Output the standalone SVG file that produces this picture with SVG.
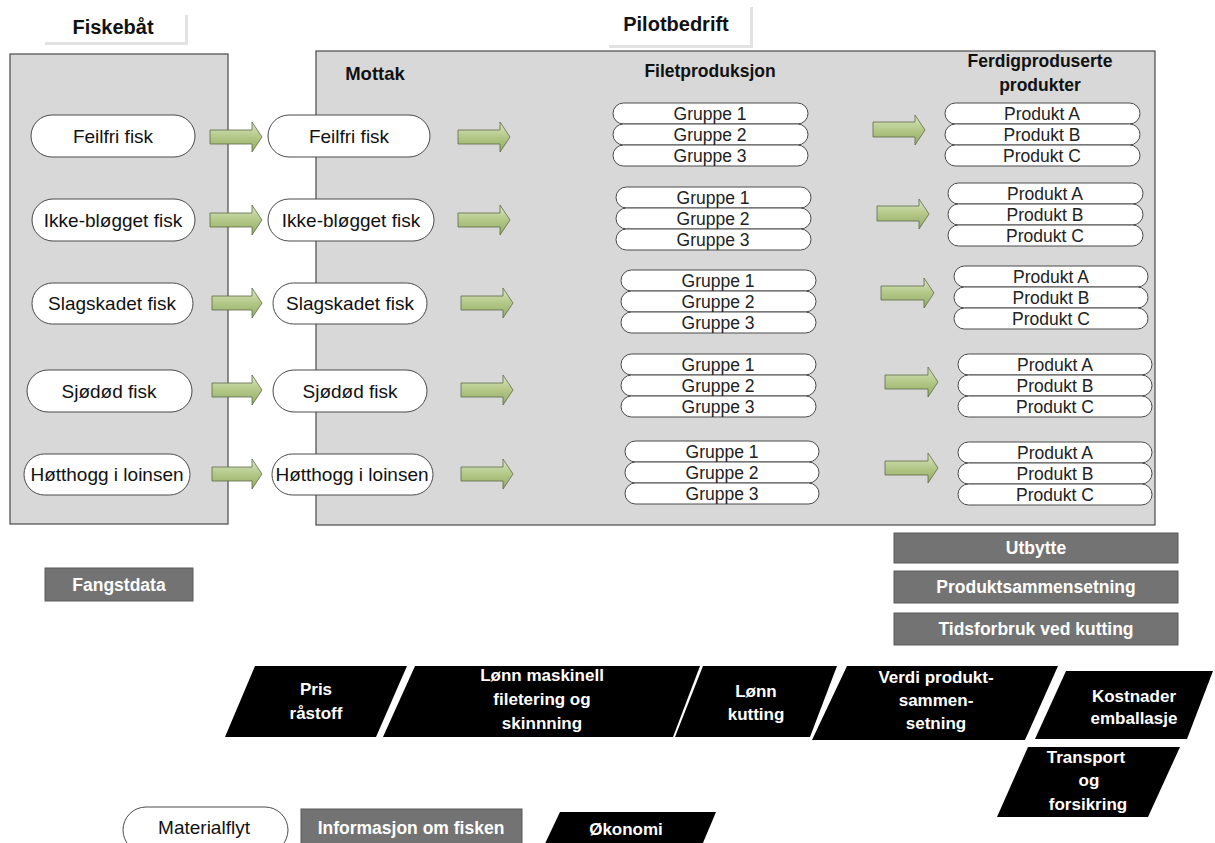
<svg xmlns="http://www.w3.org/2000/svg" width="1215" height="843" viewBox="0 0 1215 843">
<style>
text{font-family:"Liberation Sans",Arial,sans-serif;text-anchor:middle}
.panel{fill:#d8d8d8;stroke:#4a4a4a;stroke-width:1.2}
.pill{fill:#fff;stroke:#4a4a4a;stroke-width:1}
.big{font-size:19px;fill:#111}
.sm{font-size:17.5px;fill:#222}
.hd{font-size:20px;font-weight:bold;fill:#111}
.sh{font-size:17.5px;font-weight:bold;fill:#111}
.info{fill:#737373;stroke:#5a5a5a;stroke-width:1}
.it{font-size:17.5px;font-weight:bold;fill:#fff}
.eco{fill:#000}
.et{font-size:17px;font-weight:bold;fill:#fff}
.arr{fill:url(#g);stroke:#5d6b48;stroke-width:0.8}
.hb{fill:#fff}
.hbs{fill:#e2e2e2}
</style>
<defs>
<linearGradient id="g" x1="0" y1="0" x2="0" y2="1">
<stop offset="0" stop-color="#dbe6c2"/>
<stop offset="0.5" stop-color="#b3c888"/>
<stop offset="1" stop-color="#93ab62"/>
</linearGradient>
</defs>
<rect width="1215" height="843" fill="#fff"/>

<g id="hdr-fiskebat">
<rect class="hbs" x="45" y="15" width="143" height="30"/>
<rect class="hb" x="43" y="13" width="142" height="29"/>
<text class="hd" x="113" y="34">Fiskebåt</text>
</g>
<g id="hdr-pilot">
<rect class="hbs" x="609" y="7" width="144" height="41"/>
<rect class="hb" x="607" y="5" width="143" height="40"/>
<text class="hd" x="676" y="31">Pilotbedrift</text>
</g>

<g id="panel-fiskebat"><rect class="panel" x="10" y="54" width="218" height="470"/></g>
<g id="panel-pilot"><rect class="panel" x="316" y="51" width="839" height="474"/>
<text class="sh" x="375" y="80" style="font-size:18.5px">Mottak</text>
<text class="sh" x="710" y="77">Filetproduksjon</text>
<text class="sh" x="1040" y="67">Ferdigproduserte</text>
<text class="sh" x="1040" y="91">produkter</text>
</g>

<g id="fb-1"><rect class="pill" x="31" y="115" width="164" height="42" rx="21"/><text class="big" x="113" y="143">Feilfri fisk</text></g>
<g id="fb-2"><rect class="pill" x="32" y="199" width="163" height="42" rx="21"/><text class="big" x="113" y="227">Ikke-bløgget fisk</text></g>
<g id="fb-3"><rect class="pill" x="32" y="283" width="161" height="41" rx="20.5"/><text class="big" x="112" y="310">Slagskadet fisk</text></g>
<g id="fb-4"><rect class="pill" x="27" y="370" width="165" height="42" rx="21"/><text class="big" x="109" y="398">Sjødød fisk</text></g>
<g id="fb-5"><rect class="pill" x="24" y="454" width="166" height="41" rx="20.5"/><text class="big" x="107" y="481">Høtthogg i loinsen</text></g>

<g id="mo-1"><rect class="pill" x="268" y="115" width="162" height="42" rx="21"/><text class="big" x="349" y="143">Feilfri fisk</text></g>
<g id="mo-2"><rect class="pill" x="268" y="199" width="166" height="42" rx="21"/><text class="big" x="351" y="227">Ikke-bløgget fisk</text></g>
<g id="mo-3"><rect class="pill" x="273" y="283" width="154" height="41" rx="20.5"/><text class="big" x="350" y="310">Slagskadet fisk</text></g>
<g id="mo-4"><rect class="pill" x="273" y="370" width="154" height="42" rx="21"/><text class="big" x="350" y="398">Sjødød fisk</text></g>
<g id="mo-5"><rect class="pill" x="272" y="454" width="161" height="41" rx="20.5"/><text class="big" x="352" y="481">Høtthogg i loinsen</text></g>

<g id="fp-1">
<rect class="pill" x="613" y="103" width="195" height="21" rx="10.5"/><rect class="pill" x="613" y="124" width="195" height="21" rx="10.5"/><rect class="pill" x="613" y="145" width="195" height="21" rx="10.5"/>
<text class="sm" x="710" y="120">Gruppe 1</text><text class="sm" x="710" y="141">Gruppe 2</text><text class="sm" x="710" y="162">Gruppe 3</text>
</g>
<g id="fp-2">
<rect class="pill" x="616" y="187" width="195" height="21" rx="10.5"/><rect class="pill" x="616" y="208" width="195" height="21" rx="10.5"/><rect class="pill" x="616" y="229" width="195" height="21" rx="10.5"/>
<text class="sm" x="713" y="204">Gruppe 1</text><text class="sm" x="713" y="225">Gruppe 2</text><text class="sm" x="713" y="246">Gruppe 3</text>
</g>
<g id="fp-3">
<rect class="pill" x="621" y="270" width="195" height="21" rx="10.5"/><rect class="pill" x="621" y="291" width="195" height="21" rx="10.5"/><rect class="pill" x="621" y="312" width="195" height="21" rx="10.5"/>
<text class="sm" x="718" y="287">Gruppe 1</text><text class="sm" x="718" y="308">Gruppe 2</text><text class="sm" x="718" y="329">Gruppe 3</text>
</g>
<g id="fp-4">
<rect class="pill" x="621" y="354" width="195" height="21" rx="10.5"/><rect class="pill" x="621" y="375" width="195" height="21" rx="10.5"/><rect class="pill" x="621" y="396" width="195" height="21" rx="10.5"/>
<text class="sm" x="718" y="371">Gruppe 1</text><text class="sm" x="718" y="392">Gruppe 2</text><text class="sm" x="718" y="413">Gruppe 3</text>
</g>
<g id="fp-5">
<rect class="pill" x="625" y="441" width="194" height="21" rx="10.5"/><rect class="pill" x="625" y="462" width="194" height="21" rx="10.5"/><rect class="pill" x="625" y="483" width="194" height="21" rx="10.5"/>
<text class="sm" x="722" y="458">Gruppe 1</text><text class="sm" x="722" y="479">Gruppe 2</text><text class="sm" x="722" y="500">Gruppe 3</text>
</g>

<g id="pr-1">
<rect class="pill" x="945" y="103" width="195" height="21" rx="10.5"/><rect class="pill" x="945" y="124" width="195" height="21" rx="10.5"/><rect class="pill" x="945" y="145" width="195" height="21" rx="10.5"/>
<text class="sm" x="1042" y="120">Produkt A</text><text class="sm" x="1042" y="141">Produkt B</text><text class="sm" x="1042" y="162">Produkt C</text>
</g>
<g id="pr-2">
<rect class="pill" x="948" y="183" width="195" height="21" rx="10.5"/><rect class="pill" x="948" y="204" width="195" height="21" rx="10.5"/><rect class="pill" x="948" y="225" width="195" height="21" rx="10.5"/>
<text class="sm" x="1045" y="200">Produkt A</text><text class="sm" x="1045" y="221">Produkt B</text><text class="sm" x="1045" y="242">Produkt C</text>
</g>
<g id="pr-3">
<rect class="pill" x="954" y="266" width="194" height="21" rx="10.5"/><rect class="pill" x="954" y="287" width="194" height="21" rx="10.5"/><rect class="pill" x="954" y="308" width="194" height="21" rx="10.5"/>
<text class="sm" x="1051" y="283">Produkt A</text><text class="sm" x="1051" y="304">Produkt B</text><text class="sm" x="1051" y="325">Produkt C</text>
</g>
<g id="pr-4">
<rect class="pill" x="958" y="354" width="194" height="21" rx="10.5"/><rect class="pill" x="958" y="375" width="194" height="21" rx="10.5"/><rect class="pill" x="958" y="396" width="194" height="21" rx="10.5"/>
<text class="sm" x="1055" y="371">Produkt A</text><text class="sm" x="1055" y="392">Produkt B</text><text class="sm" x="1055" y="413">Produkt C</text>
</g>
<g id="pr-5">
<rect class="pill" x="958" y="442" width="194" height="21" rx="10.5"/><rect class="pill" x="958" y="463" width="194" height="21" rx="10.5"/><rect class="pill" x="958" y="484" width="194" height="21" rx="10.5"/>
<text class="sm" x="1055" y="459">Produkt A</text><text class="sm" x="1055" y="480">Produkt B</text><text class="sm" x="1055" y="501">Produkt C</text>
</g>

<g id="connectors">
<path class="arr" d="M210 130H252V122L262 137L252 152V144H210Z"/>
<path class="arr" d="M210 213H252V205L262 220L252 235V227H210Z"/>
<path class="arr" d="M212 296H252V288L262 303L252 318V310H212Z"/>
<path class="arr" d="M212 383H252V375L262 390L252 405V397H212Z"/>
<path class="arr" d="M212 467H252V459L262 474L252 489V481H212Z"/>

<path class="arr" d="M458 130H500V122L510 137L500 152V144H458Z"/>
<path class="arr" d="M458 213H500V205L510 220L500 235V227H458Z"/>
<path class="arr" d="M461 296H503V288L513 303L503 318V310H461Z"/>
<path class="arr" d="M461 383H503V375L513 390L503 405V397H461Z"/>
<path class="arr" d="M461 467H503V459L513 474L503 489V481H461Z"/>

<path class="arr" d="M873 122H915V115L925 130L915 145V137H873Z"/>
<path class="arr" d="M877 206H919V199L929 214L919 229V221H877Z"/>
<path class="arr" d="M881 286H924V278L934 293L924 308V300H881Z"/>
<path class="arr" d="M885 375H928V367L938 382L928 397V389H885Z"/>
<path class="arr" d="M885 461H928V453L938 468L928 483V475H885Z"/>
</g>

<g id="info-fangst"><rect class="info" x="45" y="568" width="148" height="33"/><text class="it" x="119" y="591">Fangstdata</text></g>
<g id="info-utbytte"><rect class="info" x="894" y="533" width="284" height="30"/><text class="it" x="1036" y="554">Utbytte</text></g>
<g id="info-produkt"><rect class="info" x="894" y="571" width="284" height="32"/><text class="it" x="1036" y="593">Produktsammensetning</text></g>
<g id="info-tid"><rect class="info" x="894" y="613" width="284" height="32"/><text class="it" x="1036" y="635">Tidsforbruk ved kutting</text></g>

<g id="eco-pris"><polygon class="eco" points="255,666 407,666 376,737 225,737"/><text class="et" x="316" y="695">Pris</text><text class="et" x="316" y="719">råstoff</text></g>
<g id="eco-lonn-mask"><polygon class="eco" points="415,666 700,666 673,737 383,737"/><text class="et" x="542" y="681">Lønn maskinell</text><text class="et" x="542" y="705">filetering og</text><text class="et" x="542" y="729">skinnning</text></g>
<g id="eco-lonn-kutt"><polygon class="eco" points="703,666 837,666 810,737 675,737"/><text class="et" x="756" y="697">Lønn</text><text class="et" x="756" y="720">kutting</text></g>
<g id="eco-verdi"><polygon class="eco" points="847,666 1058,666 1025,740 812,740"/><text class="et" x="936" y="683">Verdi produkt-</text><text class="et" x="936" y="706">sammen-</text><text class="et" x="936" y="729">setning</text></g>
<g id="eco-kost"><polygon class="eco" points="1066,671 1213,671 1187,739 1035,739"/><text class="et" x="1134" y="702">Kostnader</text><text class="et" x="1134" y="724">emballasje</text></g>
<g id="eco-transport"><polygon class="eco" points="1028,747 1180,747 1148,817 997,817"/><text class="et" x="1086" y="763">Transport</text><text class="et" x="1089" y="786">og</text><text class="et" x="1088" y="810">forsikring</text></g>

<g id="legend-material"><rect class="pill" x="123" y="807" width="165" height="46" rx="23"/><text class="big" x="204" y="834">Materialflyt</text></g>
<g id="legend-info"><rect class="info" x="301" y="809" width="221" height="40"/><text class="it" x="411" y="834">Informasjon om fisken</text></g>
<g id="legend-eco"><polygon class="eco" points="560,812 716,812 700,850 542,850"/><text class="et" x="626" y="835">Økonomi</text></g>
</svg>
